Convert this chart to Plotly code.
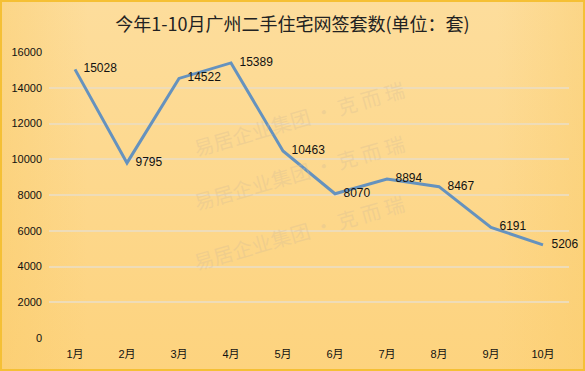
import base64
import plotly.graph_objects as go

months = ["1月", "2月", "3月", "4月", "5月", "6月", "7月", "8月", "9月", "10月"]
deals = [15028, 9795, 14522, 15389, 10463, 8070, 8894, 8467, 6191, 5206]
y_ticks = [0, 2000, 4000, 6000, 8000, 10000, 12000, 14000, 16000]
y_tick_labels = [str(v) for v in y_ticks]
title_text = "今年1-10月广州二手住宅网签套数(单位：套)"
watermark = "易居企业集团 · 克 而 瑞"

W, H = 585, 371
L, R, T, B = 49, 16, 52, 33
pw, ph = W - L - R, H - T - B

svg = f'''<svg xmlns="http://www.w3.org/2000/svg" width="{W}" height="{H}">
<defs>
<linearGradient id="g" x1="0" y1="0" x2="0" y2="1">
<stop offset="0" stop-color="#FDDD9C"/><stop offset="1" stop-color="#FDD37E"/></linearGradient>
<linearGradient id="h" x1="0" y1="0" x2="1" y2="0">
<stop offset="0" stop-color="#F9C860" stop-opacity="0.35"/>
<stop offset="0.15" stop-color="#F9C860" stop-opacity="0"/>
<stop offset="0.85" stop-color="#F9C860" stop-opacity="0"/>
<stop offset="1" stop-color="#F9C860" stop-opacity="0.35"/></linearGradient>
</defs>
<rect x="0" y="0" width="{W}" height="{H}" fill="url(#g)"/>
<rect x="0" y="0" width="{W}" height="{H}" fill="url(#h)"/>
<rect x="1" y="1" width="{W-2}" height="{H-2}" fill="none" stroke="#F5C035" stroke-width="2"/>
</svg>'''
src = "data:image/svg+xml;base64," + base64.b64encode(svg.encode()).decode()

fig = go.Figure()
fig.add_trace(go.Scatter(
    x=months, y=deals, mode="lines+markers+text",
    line=dict(color="#6592BE", width=3),
    marker=dict(size=12, color="rgba(0,0,0,0)"),
    text=[str(v) for v in deals], textposition="middle right",
    textfont=dict(family="Liberation Sans, Noto Sans CJK SC", size=12, color="#111111"),
    cliponaxis=False, hoverinfo="skip", showlegend=False,
))

fig.add_layout_image(dict(
    source=src, xref="paper", yref="paper",
    x=-L / pw, y=1 + T / ph, sizex=W / pw, sizey=H / ph,
    sizing="stretch", layer="below", xanchor="left", yanchor="top",
))

for ay in [0.93, 0.58, 0.205]:
    fig.add_annotation(
        text=watermark, xref="paper", yref="paper", x=0.48, y=ay,
        showarrow=False, textangle=-16,
        font=dict(family="Noto Sans CJK SC", size=20, color="rgba(215,190,150,0.35)"),
    )

fig.update_layout(
    width=W, height=H,
    margin=dict(l=L, r=R, t=T, b=B),
    paper_bgcolor="rgba(0,0,0,0)", plot_bgcolor="rgba(0,0,0,0)",
    title=dict(text=title_text, x=0.5, xanchor="center", y=1 - 25 / H, yanchor="middle",
               font=dict(family="Noto Sans CJK SC", size=18, color="#222222")),
    font=dict(family="Liberation Sans, Noto Sans CJK SC", size=11, color="#111111"),
    xaxis=dict(type="category", range=[-0.5, len(months) - 0.5], showgrid=False,
               zeroline=False, showline=False, ticks="", tickfont=dict(size=11),
               ticklabelstandoff=8),
    yaxis=dict(range=[0, 16000], tickvals=y_ticks, ticktext=y_tick_labels, showgrid=True,
               gridcolor="#EEDCB8", gridwidth=2, zeroline=False, showline=False,
               ticks="", tickfont=dict(size=11), ticklabelstandoff=6),
)

fig.write_html("out.html", config={"displayModeBar": False},
               post_script="document.body.style.margin='0';")
